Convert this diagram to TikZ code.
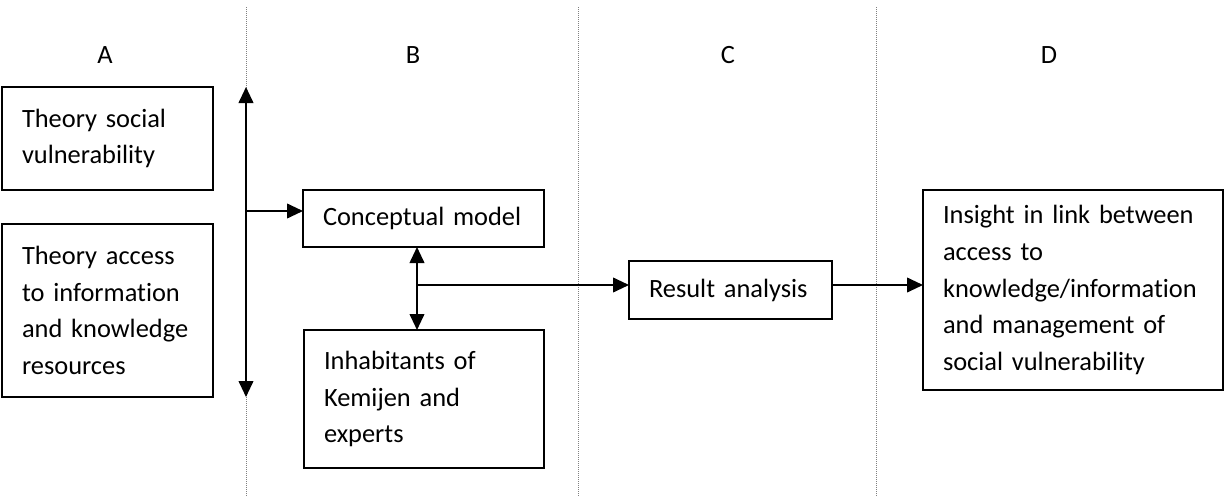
\documentclass[tikz,border=0pt]{standalone}
\usepackage{fontspec}
\setmainfont{Carlito}[Ligatures=NoCommon]
\usetikzlibrary{arrows.meta}
\begin{document}
\begin{tikzpicture}[
    x=0.75pt, y=-0.75pt,
    >={Triangle[length=12pt,width=11pt]},
    txt/.style={font=\fontsize{19.8}{27.5}\selectfont},
    box/.style={txt, draw, line width=1.4pt, rectangle, anchor=north west, outer sep=0pt,
      inner xsep=15pt, inner ysep=0pt, align=left},
    link/.style={line width=1.4pt},
    sep/.style={gray, densely dotted, line width=0.5pt}
  ]
  \useasboundingbox (0,0) rectangle (1224,496);
  \draw[sep] (246,7) -- (246,496);
  \draw[sep] (578,7) -- (578,496);
  \draw[sep] (876,7) -- (876,496);
  \node[txt] (colA) at (105,55) {A};
  \node[txt] (colB) at (413,55) {B};
  \node[txt] (colC) at (728,55) {C};
  \node[txt] (colD) at (1049,55) {D};
  \node[box, text width=128.25pt, minimum height=77.25pt] (social) at (2,87) {Theory social\\vulnerability};
  \node[box, text width=128.25pt, minimum height=129.75pt] (access) at (2,224) {Theory access\\to information\\and knowledge\\resources};
  \node[box, text width=150.75pt, minimum height=42.75pt] (model) at (303,190) {Conceptual model};
  \node[box, text width=150pt, minimum height=103.5pt] (people) at (304,330) {Inhabitants of\\Kemijen and\\experts};
  \node[box, text width=122.25pt, minimum height=43.5pt] (result) at (629,261) {Result analysis};
  \node[box, text width=195pt, minimum height=150pt] (insight) at (923,190) {Insight in link between\\access to\\knowledge/information\\and management of\\social vulnerability};
  \coordinate (top) at (246,87);
  \coordinate (bottom) at (246,397);
  \coordinate (feed) at (246,211);
  \coordinate (mid) at (417,285);
  \draw[link,<->] (top) -- (bottom);
  \draw[link,->] (feed) -- (feed -| model.west);
  \draw[link,<->] (mid |- model.south) -- (mid |- people.north);
  \draw[link,->] (mid) -- (mid -| result.west);
  \draw[link,->] (result.east |- mid) -- (mid -| insight.west);
\end{tikzpicture}
\end{document}
